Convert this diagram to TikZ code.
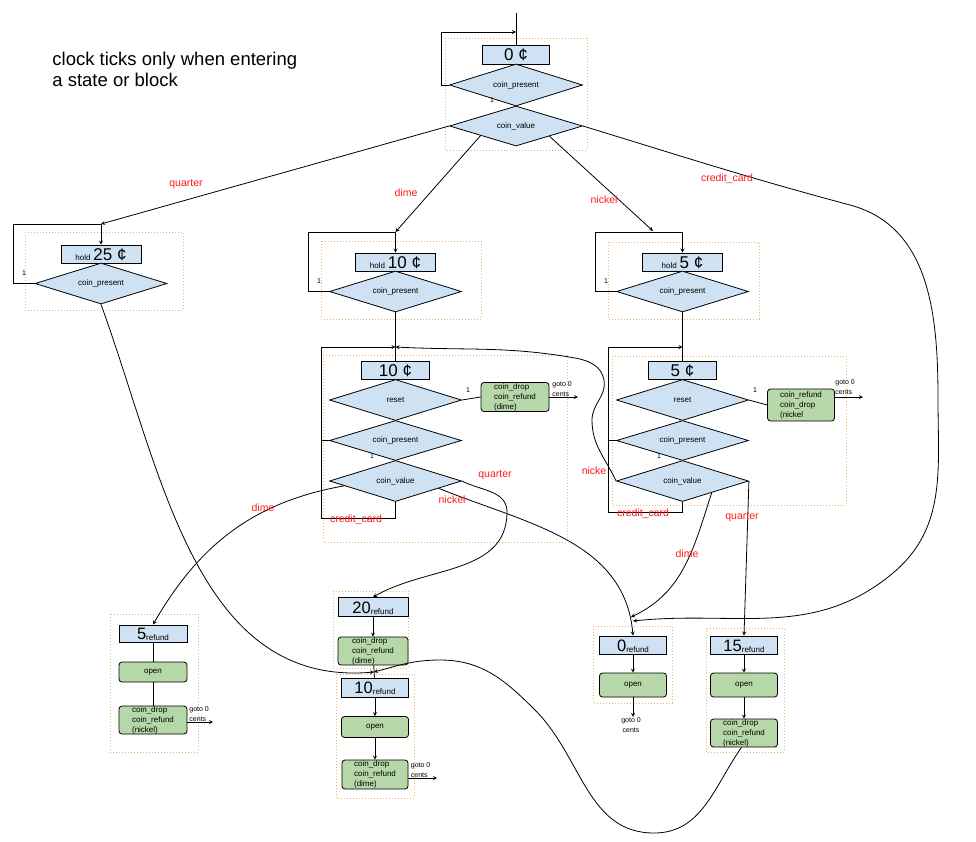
\documentclass[tikz,border=0pt]{standalone}
\usepackage{fontspec}
\setmainfont{Liberation Sans}
\usepackage{tikz}
\usetikzlibrary{shapes.geometric,calc}
\definecolor{stateblue}{HTML}{CFE2F3}
\definecolor{actgreen}{HTML}{B6D7A8}
\definecolor{frameorange}{HTML}{F6B26B}
\definecolor{condred}{HTML}{FF1A1A}
\newcommand*{\holdc}[1]{{\fontsize{8}{9}\selectfont hold}\,#1~¢}
\newcommand*{\refund}[1]{#1\raisebox{-1pt}{\fontsize{8}{9}\selectfont refund}}

\begin{document}
\begin{tikzpicture}[x=1pt, y=1pt, line width=0.8pt, >=stealth,
    state/.style={draw, fill=stateblue, inner sep=0pt, text height=12.2pt, text depth=0pt, font=\fontsize{17}{18}\selectfont},
    rstate/.style={state, font=\fontsize{16.5}{18}\selectfont, minimum width=67pt, minimum height=18pt},
    test/.style={diamond, aspect=3.2, draw, fill=stateblue, inner sep=0pt, minimum width=132pt, font=\fontsize{8}{9}\selectfont},
    act/.style={draw, fill=actgreen, rounded corners=3pt, inner sep=0pt, align=left, font=\fontsize{8}{10}\selectfont},
    region/.style={draw=frameorange, dash pattern=on 1pt off 2pt, line width=0.9pt},
    cond/.style={text=condred, inner sep=0pt, font=\fontsize{10.5}{12}\selectfont},
    note/.style={inner sep=0pt, align=left, font=\fontsize{7}{10}\selectfont}]

  \useasboundingbox (0,0) rectangle (976,-841);

  \foreach \xa/\ya/\xb/\yb in {445/38/587/150, 25/232/183/310, 321/241/481/319,
      608/242/759/319, 323/355/567/542, 612/356/846/505, 110/614/198/752,
      333/591/408/668, 336/674/414/798, 593/626/672/703, 706/628/784/752}
  {
    \draw[region] (\xa,-\ya) rectangle (\xb,-\yb);
  }

  \node[anchor=north west, inner sep=0pt, align=left, font=\fontsize{18.5}{21.5}\selectfont]
    (title) at (52,-51.5) {clock ticks only when entering\\a state or block};

  \node[state, minimum width=67pt, minimum height=19pt] (z0) at (516,-54.5) {0~¢};
  \node[test, minimum width=133pt, minimum height=42pt] (zp) at (516,-85) {coin\_present};
  \node[test, minimum width=133pt, minimum height=40pt] (zv) at (516,-126) {coin\_value};
  \coordinate (zin) at (516,-13);
  \coordinate (zj) at (516,-32);
  \draw (zin) -- (z0.north);
  \draw[->] (zp.west) -- (441,-85) |- (zj);
  \node[note] at (492,-100) {1};

  \foreach \n/\x/\y/\lx in {25/101/254/13, 10/395.5/262/308, 5/682.5/262/595}
  {
    \node[state, minimum width=80pt, minimum height=18pt] (hb\n) at (\x,-\y) {\holdc{\n}};
    \node[test, minimum height=41pt] (hp\n) at (\x,-\y-29.5) {coin\_present};
    \coordinate (hj\n) at (\x,-\y+30);
    \draw (hp\n.west) -- (\lx,-\y-29.5) |- (hj\n);
    \draw[->] (hj\n) -- (hb\n.north);
    \node[note] at (\lx+11,-\y-19) {1};
  }

  \foreach \n/\x/\lx/\cy in {10/395.5/321/518, 5/682.5/608/512}
  {
    \node[state, minimum width=68pt, minimum height=18pt] (b\n) at (\x,-370.5) {\n~¢};
    \node[test, minimum height=41pt] (r\n) at (\x,-400) {reset};
    \node[test, minimum height=40pt] (p\n) at (\x,-440.5) {coin\_present};
    \node[test, minimum height=41pt] (v\n) at (\x,-481) {coin\_value};
    \coordinate (j\n) at (\x,-347);
    \draw (hp\n.south) -- (b\n.north);
    \draw[->] (p\n.west) -- (\lx,-440.5) |- (j\n);
    \draw (v\n.south) |- (\lx,-\cy) -- (\lx,-440.5);
    \node[cond] at (\lx+35,-\cy-2) {credit\_card};
    \node[note] at (\x+72.5,-390) {1};
    \node[note] at (\x-23.5,-456) {1};
  }

  \node[act, minimum width=68pt, minimum height=29pt] (g10) at (515,-397) {coin\_drop\\coin\_refund\\(dime)};
  \node[act, minimum width=67pt, minimum height=32pt] (g5) at (801,-405) {coin\_refund\\coin\_drop\\(nickel};
  \draw (r10.east) -- (g10.west);
  \draw (r5.east) -- (g5.west);
  \coordinate (e10) at (578,-397);
  \coordinate (e5) at (863,-397);
  \draw[->] (g10.east) -- (e10);
  \draw[->] (g5.east |- e5) -- (e5);
  \node[note, anchor=west] at (552,-389) {goto 0\\cents};
  \node[note, anchor=west] at (835,-387) {goto 0\\cents};

  \node[rstate, minimum width=68pt, minimum height=17pt] (f5) at (153,-633.5) {\refund{5}};
  \node[act, minimum width=68pt, minimum height=20pt] (o5) at (153,-672) {open};
  \node[act, minimum width=68pt, minimum height=28pt] (d5) at (153,-720) {coin\_drop\\coin\_refund\\(nickel)};
  \node[rstate, minimum width=70pt, minimum height=19pt] (f20) at (373,-607) {\refund{20}};
  \node[act, minimum width=70pt, minimum height=28pt] (d20) at (373,-651) {coin\_drop\\coin\_refund\\(dime)};
  \node[rstate, minimum height=19pt] (f10) at (375,-687.5) {\refund{10}};
  \node[act, minimum width=67pt, minimum height=21pt] (o10) at (375,-727) {open};
  \node[act, minimum width=66pt, minimum height=29pt] (d10) at (375,-774.5) {coin\_drop\\coin\_refund\\(dime)};
  \node[rstate] (f0) at (633,-645) {\refund{0}};
  \node[act, minimum width=67pt, minimum height=24pt] (o0) at (633,-685) {open};
  \node[rstate] (f15) at (744,-645) {\refund{15}};
  \node[act, minimum width=67pt, minimum height=24pt] (o15) at (744,-685) {open};
  \node[act, minimum width=67pt, minimum height=28pt] (d15) at (744,-733) {coin\_drop\\coin\_refund\\(nickel)};

  \coordinate (jr10) at (374,-672);
  \coordinate (jd0) at (631,-617);
  \coordinate (jc0) at (633,-621);
  \coordinate (nk5) at (653,-231);
  \coordinate (e5r) at (213,-722);
  \coordinate (e10r) at (437,-778);
  \coordinate (e0r) at (633,-717);

  \draw (f5) -- (o5) -- (d5);
  \draw[->] (f20) -- (d20);
  \draw (d20) -- (f10);
  \draw[->] (f10) -- (o10);
  \draw[->] (o10) -- (d10);
  \draw[->] (f0) -- (o0);
  \draw[->] (o0) -- (e0r);
  \draw[->] (f15) -- (o15);
  \draw[->] (o15) -- (d15);
  \draw[->] (d5.east |- e5r) -- (e5r);
  \draw[->] (d10.east |- e10r) -- (e10r);
  \node[note, anchor=west] at (189,-714) {goto 0\\cents};
  \node[note, anchor=west] at (410.5,-770) {goto 0\\cents};
  \node[note, align=center] at (631,-725) {goto 0\\cents};

  \draw[->] (zv.west) -- (hj25);
  \draw[->] ($(zv.west)!0.47!(zv.south)$) -- (hj10);
  \draw[->] ($(zv.east)!0.5!(zv.south)$) -- (nk5);
  \draw[->] (zv.east) to[out=-17,in=165] (850,-205) to[out=-15,in=90] (938,-400)
    to[out=-90,in=40] (893,-573) to[out=220,in=6] (jc0);
  \node[cond] at (186,-184) {quarter};
  \node[cond] at (406,-193) {dime};
  \node[cond] at (604,-200) {nickel};
  \node[cond] at (727,-179) {credit\_card};

  \draw[->] ($(v10.west)!0.23!(v10.south)$) to[out=190,in=60] (f5.north);
  \draw[->] (v10.east) to[out=-27,in=90] (507,-512) to[out=-90,in=30] (f20.north);
  \draw[->] ($(v10.east)!0.35!(v10.south)$) to[out=-22,in=95] (f0.north);
  \node[cond] at (263,-508) {dime};
  \node[cond] at (495,-475) {quarter};
  \node[cond] at (452,-500) {nickel};

  \draw[->] (v5.west) to[out=115,in=-90] (592,-420) to[out=90,in=-80] (604,-380)
    to[out=100,in=-10] (575,-358) to[out=170,in=-3] (j10);
  \draw[->] ($(v5.east)!0.56!(v5.south)$) to[out=-108,in=25] (jd0);
  \draw[->] (v5.east) -- (f15.north);
  \node[cond] at (594,-471) {nicke};
  \node[cond] at (687,-554) {dime};
  \node[cond] at (742,-517) {quarter};

  \draw[->] (hp25.south) to[out=-70,in=185] (jr10);
  \draw[->] (d15.-100) to[out=-125,in=0] (654,-833) to[out=180,in=-45] (535,-710)
    to[out=135,in=0] (440,-660) to[out=180,in=15] (jr10);
\end{tikzpicture}
\end{document}
